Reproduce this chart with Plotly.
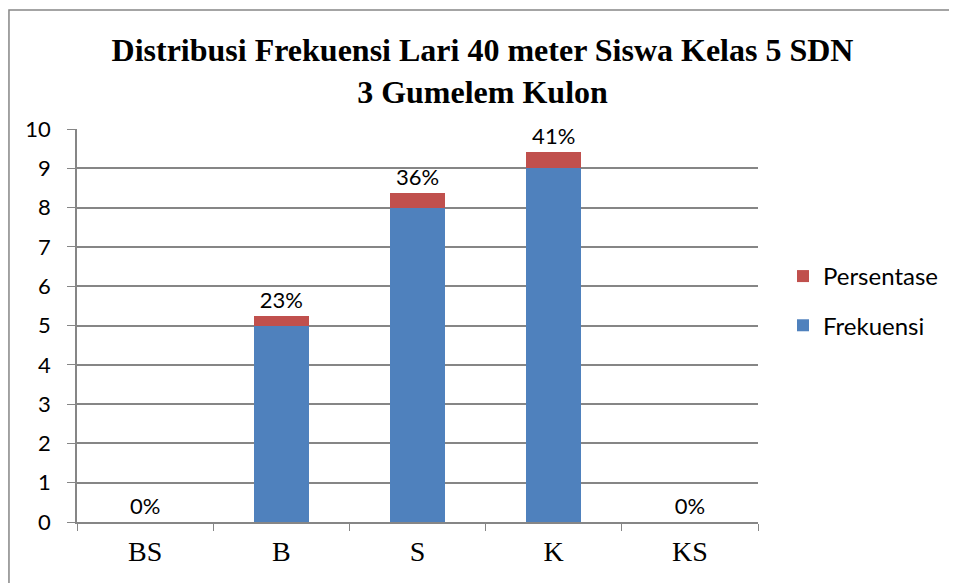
import plotly.graph_objects as go

categories = ['BS', 'B', 'S', 'K', 'KS']
frekuensi = [0, 5, 8, 9, 0]
persentase = [0.0, 0.23, 0.36, 0.41, 0.0]
pct_labels = ['0%', '23%', '36%', '41%', '0%']

BLUE = '#4f81bd'
RED = '#c0504d'
GREY = '#868686'
SANS = 'Lato, Calibri, Carlito, sans-serif'
SERIF = 'Liberation Serif, Times New Roman, serif'

fig = go.Figure()
fig.add_trace(go.Bar(x=categories, y=frekuensi, name='Frekuensi', legendgroup='f', legendrank=2,
                     marker_color=BLUE, marker_line_width=0))
fig.add_trace(go.Bar(x=categories, y=persentase, name='Persentase', legendgroup='p', legendrank=1,
                     marker_color=RED, marker_line_width=0,
                     text=pct_labels, textposition='outside', cliponaxis=False,
                     textfont=dict(family=SANS, size=22, color='black')))

# page body adds an 8px margin, so the figure is sized/offset to compensate
fig.update_layout(
    barmode='stack',
    bargap=0.6,
    width=949, height=575,
    margin=dict(l=69, r=199, t=121, b=61),
    paper_bgcolor='white', plot_bgcolor='white',
    title=dict(text='<b>Distribusi Frekuensi Lari 40 meter Siswa Kelas 5 SDN<br>3 Gumelem Kulon</b>',
               x=0.5, xanchor='center', y=0.908, yanchor='middle',
               font=dict(family=SERIF, size=32, color='black')),
    legend=dict(x=1.0367, y=0.682, xanchor='left', yanchor='top',
                traceorder='grouped', tracegroupgap=15,
                font=dict(family=SANS, size=24, color='black')),
    showlegend=True,
)

fig.update_yaxes(range=[0, 10], dtick=1, showgrid=True, gridcolor=GREY, gridwidth=1.5,
                 showline=True, linecolor=GREY, linewidth=1.5,
                 ticks='outside', ticklen=8, tickcolor=GREY, ticklabelstandoff=12,
                 tickfont=dict(family=SANS, size=22, color='black'), zeroline=False)
fig.update_xaxes(showline=True, linecolor=GREY, linewidth=1.5,
                 ticks='outside', ticklen=7, tickcolor=GREY, tickson='boundaries',
                 ticklabelstandoff=4,
                 tickfont=dict(family=SERIF, size=28, color='black'))

# outer chart border (only left and top edges fall inside the picture)
fig.add_shape(type='rect', xref='paper', yref='paper',
              x0=-0.0999, x1=1.5, y0=-0.5, y1=1.3028,
              line=dict(color=GREY, width=1.5), layer='below')

fig.write_html('out.html')
